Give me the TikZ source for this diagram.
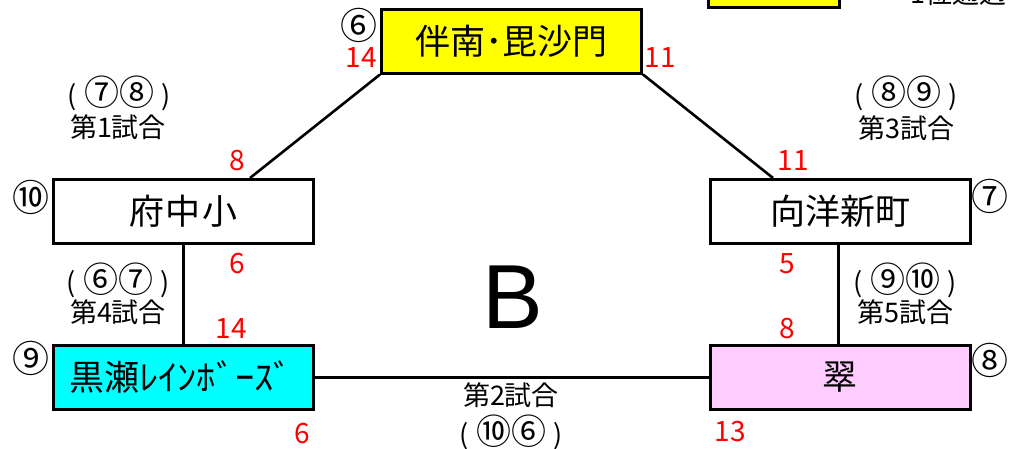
\documentclass[tikz,border=0pt]{standalone}
\usepackage{fontspec}
\setmainfont{Noto Sans CJK JP}
\newfontfamily\latinfont{Liberation Sans}
\definecolor{teamyellow}{RGB}{255,255,0}
\definecolor{teamcyan}{RGB}{0,255,255}
\definecolor{teampink}{RGB}{255,204,255}
\newcommand{\seedpair}[1]{(\hspace{7pt}{\fontsize{35}{35}\selectfont #1}\hspace{7pt})}

\begin{document}
\begin{tikzpicture}[x=1pt,y=-1pt,
	team/.style={draw,line width=3pt,minimum width=260pt,minimum height=64pt,inner sep=0pt,font=\fontsize{35}{35}\selectfont},
	seed/.style={inner sep=0pt,font=\fontsize{37}{37}\selectfont},
	score/.style={inner sep=0pt,text=red,font=\fontsize{28}{28}\selectfont},
	game/.style={inner sep=0pt,font=\fontsize{27}{27}\selectfont},
	match/.style={line width=2.6pt}]
	\useasboundingbox (0,0) rectangle (1025,448);
	% legend, cut off at the top
	\draw[line width=3pt,fill=teamyellow] (708,-60) rectangle (839,7);
	\node[game,anchor=south west] (pass) at (910,6) {1位通過};
	% teams
	\node[team,fill=teamyellow] (hannan) at (511.5,41) {伴南･毘沙門};
	\node[team] (fuchu) at (183.5,211.5) {府\kern2pt 中\kern2pt 小};
	\node[team] (koyo) at (840,211.5) {向洋新町};
	\node[team,fill=teamcyan] (kurose) at (183.5,377.5) {\hspace*{-5pt}黒瀬\scalebox{1.1}[1]{ﾚｲﾝﾎﾞｰｽﾞ}};
	\node[team,fill=teampink] (midori) at (840,377.5) {翠};
	% seeds
	\node[seed] (s6) at (359,25) {⑥};
	\node[seed] (s10) at (31,197) {⑩};
	\node[seed] (s7) at (990,196) {⑦};
	\node[seed] (s9) at (31,358) {⑨};
	\node[seed] (s8) at (990,360) {⑧};
	% matches
	\draw[match] (hannan.south west) -- ([xshift=66.5pt]fuchu.north);
	\draw[match] (hannan.south east) -- ([xshift=-67pt]koyo.north);
	\draw[match] (fuchu.south) -- (kurose.north);
	\draw[match] ([xshift=-1.5pt]koyo.south) -- ([xshift=-1.5pt]midori.north);
	\draw[match] (kurose.east) -- (midori.west);
	% scores
	\node[score] (p1) at (361,58) {14};
	\node[score] (p2) at (660,58) {11};
	\node[score] (p3) at (237,161) {8};
	\node[score] (p4) at (793,161) {11};
	\node[score] (p5) at (237,264) {6};
	\node[score] (p6) at (787,264) {5};
	\node[score] (p7) at (231,329) {14};
	\node[score] (p8) at (787,329) {8};
	\node[score] (p9) at (302,434) {6};
	\node[score] (p10) at (730,432) {13};
	% games
	\node[game] (g1a) at (119,93) {\seedpair{⑦⑧}};
	\node[game] (g1) at (118,127) {第1試合};
	\node[game] (g3a) at (906,93) {\seedpair{⑧⑨}};
	\node[game] (g3) at (906,128) {第3試合};
	\node[game] (g4a) at (118,280) {\seedpair{⑥⑦}};
	\node[game] (g4) at (118,312) {第4試合};
	\node[game] (g5a) at (905,280) {\seedpair{⑨⑩}};
	\node[game] (g5) at (905,312) {第5試合};
	\node[game] (g2) at (511,395) {第2試合};
	\node[game] (g2a) at (511,432) {\seedpair{⑩⑥}};
	\node[inner sep=0pt,font=\latinfont\fontsize{91}{91}\selectfont] (block) at (513,297) {B};
\end{tikzpicture}
\end{document}
